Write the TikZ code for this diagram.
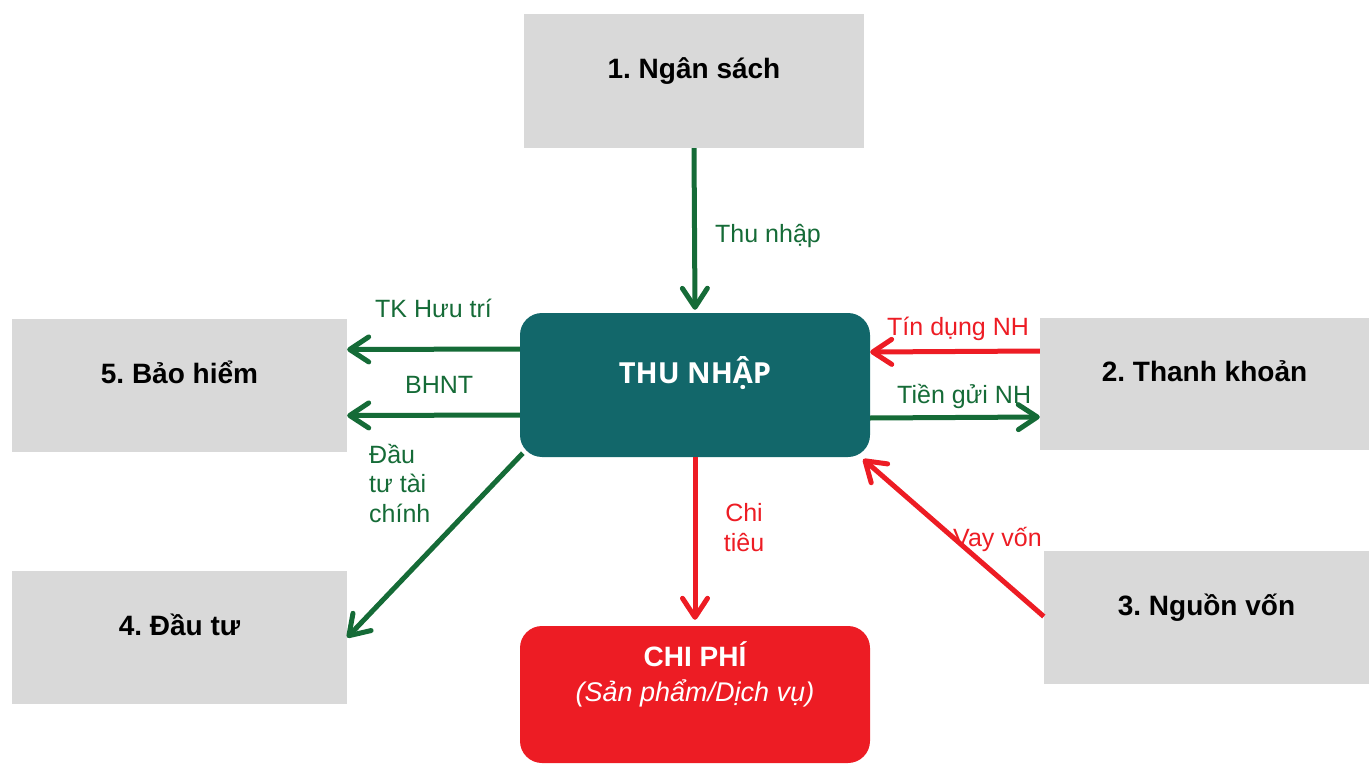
\documentclass[tikz,border=0pt]{standalone}
\usepackage{fontspec}
\setmainfont{Liberation Sans}
\newfontfamily\osans{Open Sans}
\usetikzlibrary{arrows.meta}
\definecolor{gbox}{HTML}{D9D9D9}
\definecolor{tealbox}{HTML}{12676A}
\definecolor{redc}{HTML}{ED1C24}
\definecolor{greenc}{HTML}{156B37}
\frenchspacing
\tikzset{
  graybox/.style={fill=gbox, draw=none, inner sep=0pt},
  boxtxt/.style={anchor=base, inner sep=0pt, font=\fontsize{28}{32}\selectfont\bfseries},
  lbl/.style={inner sep=0pt, font=\fontsize{25}{29.5}\selectfont},
  glbl/.style={lbl, text=greenc},
  rlbl/.style={lbl, text=redc},
  tip/.style={-{Straight Barb[length=19pt,width=25pt,round]}},
  garr/.style={tip, draw=greenc, line width=5pt},
  rarr/.style={tip, draw=redc, line width=5pt}
}
\begin{document}
\begin{tikzpicture}[x=1pt,y=-1pt]
\useasboundingbox (0,0) rectangle (1369,765);
% boxes
\node[graybox, minimum width=340pt, minimum height=134pt] (ns) at (694,81) {};
\node[graybox, minimum width=329pt, minimum height=132pt] (tk) at (1204.5,384) {};
\node[graybox, minimum width=335pt, minimum height=133pt] (bh) at (179.5,385.5) {};
\node[graybox, minimum width=335pt, minimum height=133pt] (dt) at (179.5,637.5) {};
\node[graybox, minimum width=325pt, minimum height=133pt] (nv) at (1206.5,617.5) {};
\node[fill=tealbox, rounded corners=22pt, inner sep=0pt, minimum width=350pt, minimum height=144pt] (thu) at (695,385) {};
\node[fill=redc, rounded corners=22pt, inner sep=0pt, minimum width=350pt, minimum height=137pt] (cp) at (695,694.5) {};
% box texts
\node[boxtxt] (ns-t) at ([yshift=2.5pt]ns.center) {1. Ngân sách};
\node[boxtxt] (tk-t) at ([yshift=2.5pt]tk.center) {2. Thanh khoản};
\node[boxtxt] (bh-t) at ([yshift=2.5pt]bh.center) {5. Bảo hiểm};
\node[boxtxt] (dt-t) at ([yshift=2.5pt]dt.center) {4. Đầu tư};
\node[boxtxt] (nv-t) at ([yshift=2.5pt]nv.center) {3. Nguồn vốn};
\node[anchor=base, inner sep=0pt, text=white, font=\osans\fontsize{29}{32}\selectfont\bfseries] (thu-t) at ([yshift=2pt]thu.center) {THU NHẬP};
\node[boxtxt, text=white] (cp-t1) at ([yshift=-41pt]cp.north) {CHI PHÍ};
\node[anchor=base, inner sep=0pt, text=white, font=\fontsize{27}{32}\selectfont\itshape] (cp-t2) at ([yshift=-76pt]cp.north) {(Sản phẩm/Dịch vụ)};
% connectors
\draw[garr] (ns.south) -- ([yshift=3pt]thu.north);
\draw[garr] ([yshift=36pt]thu.west) -- ([yshift=36pt]bh.east);
\draw[garr] ([yshift=-30pt]thu.west) -- ([yshift=-30pt]bh.east);
\draw[garr] ([xshift=3pt,yshift=4pt]thu.south west) -- (dt.east);
\draw[rarr] (thu.south) -- ([yshift=6pt]cp.north);
\draw[rarr] ([yshift=33pt]tk.west) -- ([yshift=33pt]thu.east);
\draw[garr] ([yshift=-33pt]thu.east) -- ([yshift=-33pt]tk.west);
% labels
\node[glbl, anchor=base west] (l-thu) at (715,242) {Thu nhập};
\node[glbl, anchor=base west] (l-tk) at (375,317) {TK Hưu trí};
\node[glbl, anchor=base west] (l-bh) at (405,393) {BHNT};
\node[glbl, anchor=base west, align=left] (l-dt) at (369,522) {Đầu\\tư tài\\chính};
\node[rlbl, anchor=base, align=center] (l-ct) at (744,551) {Chi\\tiêu};
\node[rlbl, anchor=base west] (l-td) at (887,335) {Tín dụng NH};
\node[glbl, anchor=base west] (l-tg) at (897,403) {Tiền gửi NH};
\node[rlbl, anchor=base west] (l-vv) at (953,546) {Vay vốn};
\draw[rarr] ([yshift=1pt]nv.west) -- ([xshift=-7pt,yshift=-2pt]thu.south east);
\end{tikzpicture}
\end{document}
